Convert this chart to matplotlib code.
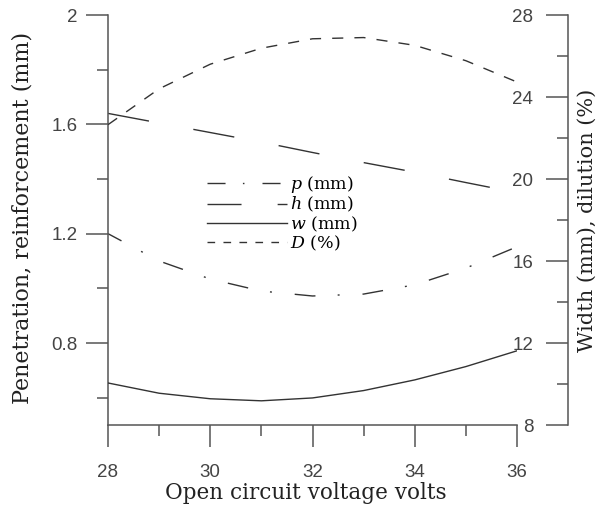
import matplotlib
matplotlib.use('Agg')
import matplotlib.pyplot as plt
from matplotlib.lines import Line2D
from matplotlib.ticker import MultipleLocator

plt.rcParams['lines.scale_dashes'] = False
plt.rcParams['mathtext.fontset'] = 'dejavuserif'

# data
voltage = [28, 29, 30, 31, 32, 33, 34, 35, 36]
p_mm = [1.20, 1.10, 1.034, 0.99, 0.972, 0.979, 1.013, 1.074, 1.152]
h_mm = [1.64, 1.605, 1.57, 1.535, 1.497, 1.46, 1.425, 1.387, 1.35]
w_mm = [10.05, 9.55, 9.28, 9.18, 9.32, 9.68, 10.2, 10.85, 11.62]
D_pct = [22.65, 24.4, 25.6, 26.38, 26.84, 26.9, 26.52, 25.77, 24.73]

labels = ['$p$ (mm)', '$h$ (mm)', '$w$ (mm)', '$D$ (%)']

line_col = '#333333'
axis_col = '#555555'
tick_col = '#444444'

fig = plt.figure(figsize=(5.99, 5.13), dpi=100)
ax = fig.add_axes([108/599, 88/513, 409/599, 410/513])
ax2 = ax.twinx()

ax.plot(voltage, p_mm, color=line_col, lw=1.0, linestyle=(4, (15, 16, 1.4, 16.5)))
ax.plot(voltage, h_mm, color=line_col, lw=1.0, linestyle=(0, (30, 32.5)))
ax2.plot(voltage, w_mm, color=line_col, lw=1.0)
ax2.plot(voltage, D_pct, color=line_col, lw=1.0, linestyle=(0, (8, 8)))

ax.set_xlim(28, 36)
ax.set_ylim(0.5, 2)
ax2.set_ylim(8, 28)

ax.xaxis.set_major_locator(MultipleLocator(2))
ax.xaxis.set_minor_locator(MultipleLocator(1))
ax.yaxis.set_minor_locator(MultipleLocator(0.2))
ax.set_yticks([0.8, 1.2, 1.6, 2.0])
ax.set_yticklabels(['0.8', '1.2', '1.6', '2'])
ax2.yaxis.set_major_locator(MultipleLocator(4))
ax2.yaxis.set_minor_locator(MultipleLocator(2))

for s in ['top', 'right']:
    ax.spines[s].set_visible(False)
for s in ['top', 'right', 'bottom']:
    ax2.spines[s].set_visible(False)
ax2.spines['left'].set_visible(True)
ax2.spines['left'].set_position(('axes', 460/409))
ax2.yaxis.tick_left()
ax2.yaxis.set_label_position('right')

for a in (ax, ax2):
    for s in a.spines.values():
        s.set_color(axis_col)
        s.set_linewidth(1.1)
    a.tick_params(which='both', direction='out', color=axis_col, width=1.1,
                  labelcolor=tick_col, labelsize=13.5)
    a.tick_params(which='major', length=16)
    a.tick_params(which='minor', length=8)
    for t in a.get_xticklabels() + a.get_yticklabels():
        t.set_fontfamily('Liberation Sans')

ax.tick_params(axis='y', pad=6)
ax.tick_params(axis='x', pad=12)
ax2.tick_params(axis='y', pad=9)

ax.set_xlabel('Open circuit voltage volts', family='DejaVu Serif', fontsize=15.5, color='#222222')
ax.xaxis.set_label_coords(0.483, -0.166)
ax.xaxis.label.set_va('center')
ax.set_ylabel('Penetration, reinforcement (mm)', family='DejaVu Serif', fontsize=16, color='#222222')
ax.yaxis.set_label_coords(-0.21, 0.505)
ax.yaxis.label.set_va('center')
ax2.set_ylabel('Width (mm), dilution (%)', family='DejaVu Serif', fontsize=15, color='#222222')
ax2.yaxis.set_label_coords(1.173, 0.5)
ax2.yaxis.label.set_va('center')
ax2.yaxis.label.set_ha('center')
ax2.yaxis.label.set_rotation(90)

handles = [
    Line2D([], [], color=line_col, lw=1.0, linestyle=(0, (13, 12.5, 1.1, 13))),
    Line2D([], [], color=line_col, lw=1.0, linestyle=(0, (24.5, 26))),
    Line2D([], [], color=line_col, lw=1.0),
    Line2D([], [], color=line_col, lw=1.0, linestyle=(0, (5.5, 6))),
]
ax.legend(handles, labels, loc='upper left', bbox_to_anchor=(99/409, 251/410),
          frameon=False, borderpad=0, borderaxespad=0, handlelength=4.6,
          handletextpad=0.2, labelspacing=0.0,
          prop={'family': 'DejaVu Serif', 'size': 12.5})

fig.savefig('out.png', dpi=100)
